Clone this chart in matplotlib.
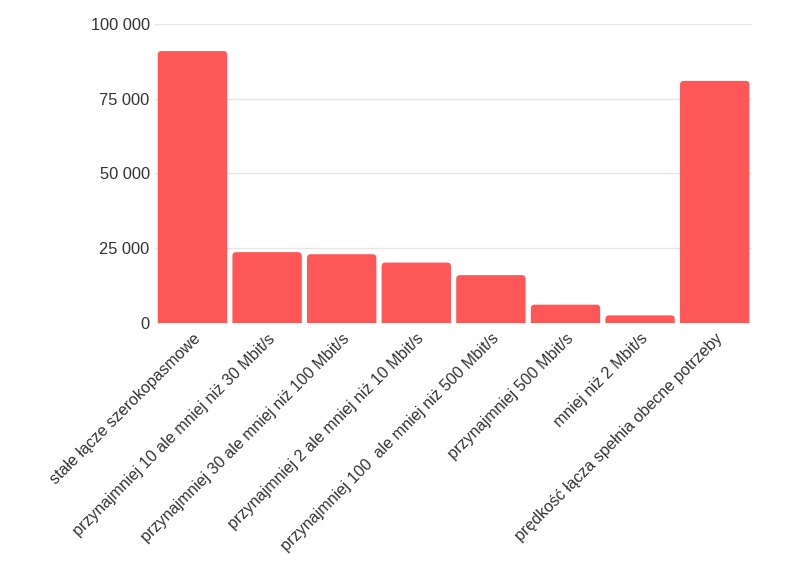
import matplotlib
matplotlib.use("Agg")
import matplotlib.pyplot as plt
from matplotlib.patches import FancyBboxPatch
from matplotlib.ticker import FuncFormatter

plt.rcParams['font.family'] = ['Liberation Sans', 'DejaVu Sans']

categories = [
    "stałe łącze szerokopasmowe",
    "przynajmniej 10 ale mniej niż 30 Mbit/s",
    "przynajmniej 30 ale mniej niż 100 Mbit/s",
    "przynajmniej 2 ale mniej niż 10 Mbit/s",
    "przynajmniej 100  ale mniej niż 500 Mbit/s",
    "przynajmniej 500 Mbit/s",
    "mniej niż 2 Mbit/s",
    "prędkość łącza spełnia obecne potrzeby",
]
values = [91000, 23600, 22900, 20100, 15900, 6000, 2400, 81000]
yticks = [0, 25000, 50000, 75000, 100000]

bar_color = "#ff5757"
text_color = "#333333"

fig = plt.figure(figsize=(8, 5.76), dpi=100)
ax = fig.add_axes([0.194, 0.44, 0.746, 0.518])

bars = ax.bar(range(len(categories)), values, width=0.93, color=bar_color)

# swap plain bars for ones with rounded top corners (bottom goes below 0 and is clipped)
for b in bars:
    x, w, h = b.get_x(), b.get_width(), b.get_height()
    b.set_visible(False)
    box = FancyBboxPatch((x, -2000), w, h + 2000,
                         boxstyle="round,pad=0,rounding_size=0.05",
                         mutation_aspect=25000,
                         facecolor=bar_color, edgecolor="none")
    ax.add_patch(box)

ax.set_xlim(-0.5, len(categories) - 0.5)
ax.set_ylim(0, 100000)
ax.set_yticks(yticks)
ax.yaxis.set_major_formatter(FuncFormatter(lambda v, p: f"{int(v):,}".replace(",", " ")))
ax.grid(axis="y", color="#e6e6e6", linewidth=1)
ax.set_axisbelow(True)
for s in ax.spines.values():
    s.set_visible(False)

ax.tick_params(axis="y", length=0, pad=4, labelsize=11.8, labelcolor=text_color)
ax.tick_params(axis="x", length=0, pad=6)
ax.set_xticks(range(len(categories)))
ax.set_xticklabels(categories, rotation=45, ha="right", rotation_mode="anchor",
                   fontsize=11.6, color=text_color)

fig.savefig("out.png", dpi=100)
